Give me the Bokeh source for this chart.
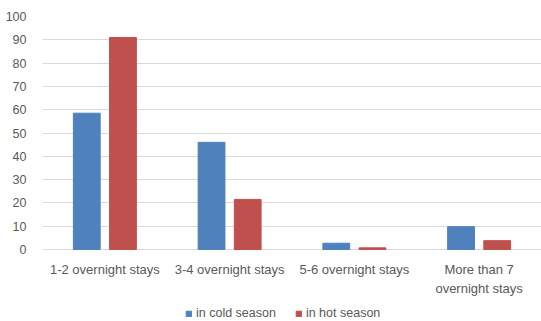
from bokeh.plotting import figure
from bokeh.models import FactorRange, Legend, LegendItem, ColumnDataSource
from bokeh.transform import dodge
from bokeh.core.properties import value
from bokeh.embed import file_html
from bokeh.resources import INLINE

categories = ["1-2 overnight stays", "3-4 overnight stays", "5-6 overnight stays", "More than 7\novernight stays"]
cold_season = [58.5, 46, 2.7, 9.8]
hot_season = [91, 21.5, 0.7, 3.8]
y_ticks = [0, 10, 20, 30, 40, 50, 60, 70, 80, 90, 100]

src = ColumnDataSource(dict(cat=categories, cold=cold_season, hot=hot_season))

# frame spans from the top gridline to the bottom of the page; values below 0 hold the labels and legend
p = figure(frame_width=499, frame_height=305, x_range=FactorRange(*categories), y_range=(-30.9, 100),
           output_backend="svg", toolbar_location=None,
           min_border_left=42, min_border_right=0, min_border_top=16, min_border_bottom=0)
p.outline_line_color = None

r1 = p.vbar(x=dodge("cat", -0.145, range=p.x_range), top="cold", width=0.215, source=src,
            fill_color="#4F81BD", line_color="#4F81BD")
r2 = p.vbar(x=dodge("cat", 0.145, range=p.x_range), top="hot", width=0.215, source=src,
            fill_color="#C0504D", line_color="#C0504D")

# category labels under the baseline
p.text(x="cat", y=-5.3, text="cat", source=src, text_align="center", text_baseline="top",
       text_font=value("Liberation Sans"), text_font_size="13px", text_color="#595959",
       text_line_height=1.3)

p.yaxis.ticker = y_ticks
p.yaxis.axis_line_color = None
p.yaxis.major_tick_line_color = None
p.yaxis.minor_tick_line_color = None
p.yaxis.major_label_text_font = "Liberation Sans"
p.yaxis.major_label_text_font_size = "12.5px"
p.yaxis.major_label_text_color = "#595959"
p.yaxis.major_label_standoff = 10
p.yaxis.major_label_overrides = {}

p.xaxis.visible = False

p.xgrid.grid_line_color = None
p.ygrid.ticker = y_ticks
p.ygrid.grid_line_color = "#D9D9D9"
p.x_range.range_padding = 0

legend = Legend(items=[LegendItem(label="in cold season", renderers=[r1]),
                       LegendItem(label="in hot season", renderers=[r2])],
                orientation="horizontal", location=(143, 1),
                label_text_font="Liberation Sans", label_text_font_size="12.5px",
                label_text_color="#595959", glyph_width=7, glyph_height=7,
                label_height=12,
                spacing=19, border_line_color=None, background_fill_alpha=0,
                padding=0, margin=0, label_standoff=4)
p.add_layout(legend, "center")

open("out.html", "w").write(file_html(p, INLINE))
